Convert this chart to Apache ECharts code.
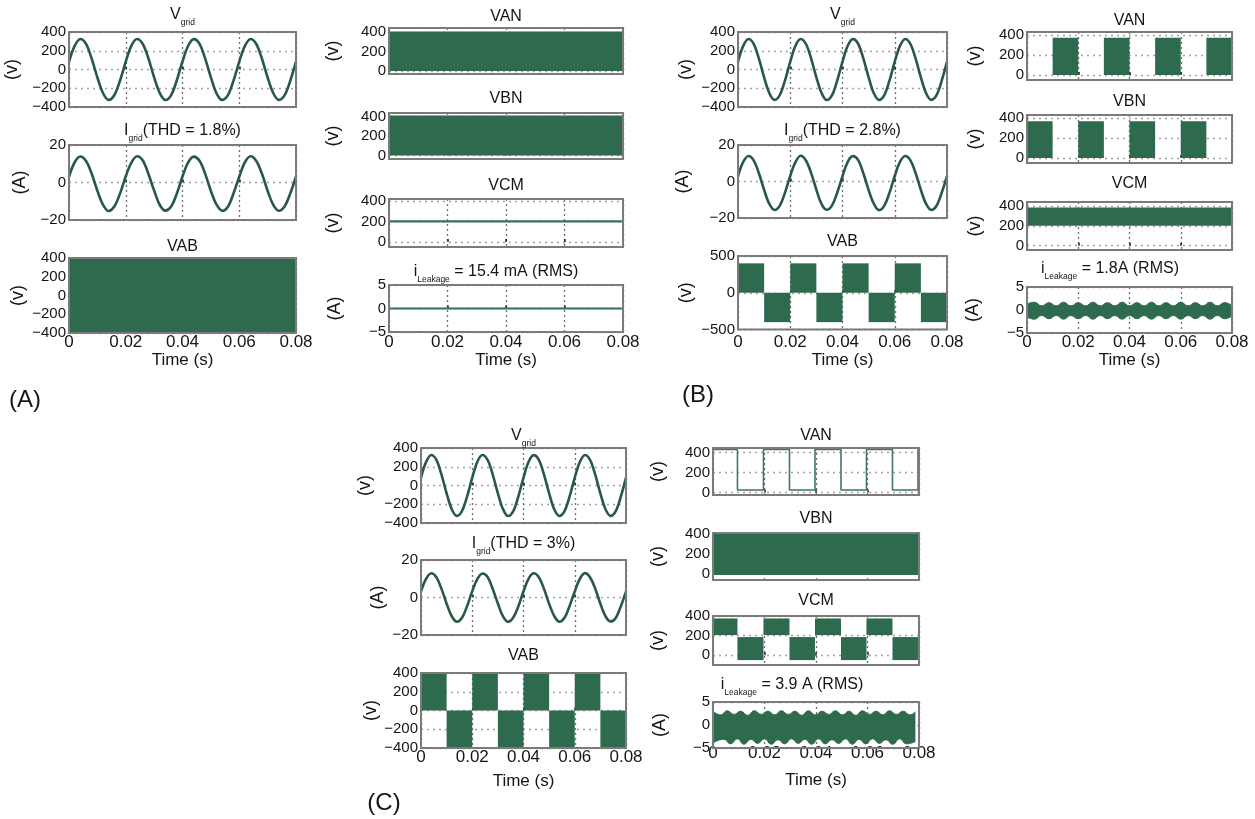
<!DOCTYPE html>
<html>
<head>
<meta charset="utf-8">
<script src="https://cdn.jsdelivr.net/npm/echarts@6/dist/echarts.min.js"></script>
<style>
  html, body { margin: 0; padding: 0; background: #fff; }
  #chart { width: 1255px; height: 819px; }
</style>
</head>
<body>
<div id="chart"></div>
<script>
// ---------- tick labels ----------
const xTicks = [0, 0.02, 0.04, 0.06, 0.08];
const ticksV400 = [-400, -200, 0, 200, 400];
const ticksA20 = [-20, 0, 20];
const ticksV500 = [-500, 0, 500];
const ticksLeg = [0, 200, 400];
const ticksA5 = [-5, 0, 5];

// ---------- grid voltage / current samples (s, V, A) ----------
const tSine = [0, 0.002, 0.004, 0.006, 0.008, 0.010, 0.012, 0.014, 0.016, 0.018,
  0.020, 0.022, 0.024, 0.026, 0.028, 0.030, 0.032, 0.034, 0.036, 0.038,
  0.040, 0.042, 0.044, 0.046, 0.048, 0.050, 0.052, 0.054, 0.056, 0.058,
  0.060, 0.062, 0.064, 0.066, 0.068, 0.070, 0.072, 0.074, 0.076, 0.078, 0.080];

const vGrid = [84, 252, 326, 274, 115, -85, -253, -324, -272, -117,
  83, 254, 325, 272, 117, -84, -252, -326, -273, -115,
  85, 253, 324, 273, 116, -83, -254, -325, -274, -116,
  84, 252, 326, 272, 115, -85, -253, -324, -273, -117, 84];

const iGridA = [3.1, 10.8, 13.9, 11.5, 4.7, -4.4, -11.9, -15.2, -12.7, -5.8,
  3.3, 10.6, 14.0, 11.7, 4.5, -4.3, -12.0, -15.0, -12.8, -5.9,
  3.2, 10.7, 13.8, 11.6, 4.6, -4.5, -11.8, -15.1, -12.9, -5.7,
  3.1, 10.8, 14.0, 11.5, 4.7, -4.4, -11.9, -15.1, -12.7, -5.8, 3.2];

const iGridB = [3.0, 10.7, 14.0, 11.6, 4.5, -4.6, -12.3, -15.6, -13.2, -6.1,
  3.1, 10.6, 14.1, 11.5, 4.6, -4.5, -12.4, -15.5, -13.1, -6.0,
  2.9, 10.8, 13.9, 11.7, 4.4, -4.7, -12.2, -15.7, -13.2, -6.1,
  3.0, 10.7, 14.0, 11.6, 4.5, -4.6, -12.3, -15.6, -13.3, -6.0, 3.0];

const iGridC = [3.3, 10.0, 12.9, 10.8, 4.6, -3.3, -10.0, -12.9, -10.8, -4.6,
  3.4, 9.9, 12.8, 10.9, 4.5, -3.2, -10.1, -13.0, -10.7, -4.7,
  3.3, 10.1, 12.9, 10.8, 4.6, -3.4, -9.9, -12.9, -10.8, -4.5,
  3.2, 10.0, 13.0, 10.7, 4.7, -3.3, -10.0, -12.8, -10.9, -4.6, 3.3];

// ---------- switching waveforms as filled blocks: [tStart, tEnd, low, high] ----------
const vabA = [[0, 0.08, -400, 400]];
const vanA = [[0, 0.08, 0, 410]];
const vbnA = [[0, 0.08, 0, 410]];
const vcmA = [[0, 200], [0.08, 200]];
const iLeakA = [[0, 0], [0.08, 0]];

const vabB = [[0, 0.01, 0, 400], [0.01, 0.02, -400, 0], [0.02, 0.03, 0, 400], [0.03, 0.04, -400, 0],
  [0.04, 0.05, 0, 400], [0.05, 0.06, -400, 0], [0.06, 0.07, 0, 400], [0.07, 0.08, -400, 0]];
const vanB = [[0.01, 0.02, 0, 375], [0.03, 0.04, 0, 375], [0.05, 0.06, 0, 375], [0.07, 0.08, 0, 375]];
const vbnB = [[0, 0.01, 0, 370], [0.02, 0.03, 0, 370], [0.04, 0.05, 0, 370], [0.06, 0.07, 0, 370]];
const vcmB = [[0, 0.08, 200, 385]];
const iLeakBUpper = [[0, 1.3], [0.0029, 1.7], [0.0057, 0.9], [0.0086, 1.6], [0.0114, 0.9], [0.0143, 1.7],
  [0.0171, 0.9], [0.0200, 1.6], [0.0229, 0.9], [0.0257, 1.7], [0.0286, 0.9], [0.0314, 1.6], [0.0343, 0.9],
  [0.0371, 1.7], [0.0400, 0.9], [0.0429, 1.6], [0.0457, 0.9], [0.0486, 1.7], [0.0514, 0.9], [0.0543, 1.6],
  [0.0571, 0.9], [0.0600, 1.7], [0.0629, 0.9], [0.0657, 1.6], [0.0686, 0.9], [0.0714, 1.7], [0.0743, 0.9],
  [0.0771, 1.6], [0.0800, 1.0]];
const iLeakBLower = [[0, -1.5], [0.0029, -2.0], [0.0057, -1.2], [0.0086, -1.9], [0.0114, -1.2], [0.0143, -2.0],
  [0.0171, -1.2], [0.0200, -1.9], [0.0229, -1.2], [0.0257, -2.0], [0.0286, -1.2], [0.0314, -1.9], [0.0343, -1.2],
  [0.0371, -2.0], [0.0400, -1.2], [0.0429, -1.9], [0.0457, -1.2], [0.0486, -2.0], [0.0514, -1.2], [0.0543, -1.9],
  [0.0571, -1.2], [0.0600, -2.0], [0.0629, -1.2], [0.0657, -1.9], [0.0686, -1.2], [0.0714, -2.0], [0.0743, -1.2],
  [0.0771, -1.9], [0.0800, -1.3]];

const vabC = [[0, 0.01, 0, 400], [0.01, 0.02, -400, 0], [0.02, 0.03, 0, 400], [0.03, 0.04, -400, 0],
  [0.04, 0.05, 0, 400], [0.05, 0.06, -400, 0], [0.06, 0.07, 0, 400], [0.07, 0.08, -400, 0]];
const vanC = [[0, 430], [0.0095, 430], [0.0095, 25], [0.0196, 25], [0.0196, 430], [0.0297, 430],
  [0.0297, 25], [0.0396, 25], [0.0396, 430], [0.0497, 430], [0.0497, 25], [0.0596, 25], [0.0596, 430],
  [0.0697, 430], [0.0697, 25], [0.0796, 25], [0.0796, 430], [0.08, 430]];
const vbnC = [[0, 0.08, -15, 400]];
const vcmC = [[0, 0.0095, 205, 375], [0.0095, 0.0196, -50, 185], [0.0196, 0.0297, 205, 375],
  [0.0297, 0.0396, -50, 185], [0.0396, 0.0497, 205, 375], [0.0497, 0.0596, -50, 185],
  [0.0596, 0.0697, 205, 375], [0.0697, 0.0796, -50, 185], [0.0796, 0.08, 205, 375]];
const iLeakCUpper = [[0, 3.0], [0.003, 2.2], [0.0055, 3.1], [0.0082, 2.3], [0.0107, 3.0], [0.0135, 2.1],
  [0.016, 3.1], [0.0188, 2.3], [0.0213, 3.0], [0.024, 2.2], [0.0265, 3.1], [0.0293, 2.3], [0.0318, 3.0],
  [0.0345, 2.1], [0.037, 3.1], [0.0398, 2.2], [0.0423, 3.0], [0.045, 2.3], [0.0475, 3.1], [0.0503, 2.2],
  [0.0528, 3.0], [0.0555, 2.1], [0.058, 3.1], [0.0608, 2.3], [0.0633, 3.0], [0.066, 2.2], [0.0685, 3.1],
  [0.0713, 2.3], [0.0738, 3.0], [0.0765, 2.2], [0.0786, 2.9]];
const iLeakCLower = [[0, -3.9], [0.0042, -3.1], [0.0068, -4.1], [0.0095, -3.0], [0.012, -4.2], [0.0147, -3.1],
  [0.0173, -4.0], [0.02, -3.0], [0.0226, -4.2], [0.0252, -3.2], [0.0278, -4.1], [0.0305, -3.0], [0.0331, -4.0],
  [0.0357, -3.1], [0.0383, -4.2], [0.041, -3.0], [0.0436, -4.1], [0.0462, -3.2], [0.0488, -4.0], [0.0515, -3.0],
  [0.0541, -4.2], [0.0567, -3.1], [0.0593, -4.1], [0.062, -3.0], [0.0646, -4.0], [0.0672, -3.2], [0.0698, -4.2],
  [0.0725, -3.0], [0.0751, -4.1], [0.0786, -3.6]];

// ---------- styling ----------
const FONT = '"Liberation Sans", Arial, Helvetica, sans-serif';
const INK = '#151515';
const GREEN = '#2e6a4e';
const TRACE = '#295a41';

const richTitle = {
  m: { fontSize: 16, fontFamily: FONT, fill: INK, color: INK, verticalAlign: 'top', lineHeight: 18 },
  s: { fontSize: 8.5, fontFamily: FONT, fill: INK, color: INK, verticalAlign: 'top', padding: [12, 0, 0, 0] }
};

// ---------- subplot layout ----------
const plots = [
  // (A)
  { box: [69, 32, 227, 75], y: [-400, 400], ticks: ticksV400, yName: '(v)', gap: 48,
    title: '{m|V}{s|grid}', tPos: [182.5, 17], series: [{ kind: 'sine', values: vGrid }] },
  { box: [69, 145, 227, 75], y: [-20, 20], ticks: ticksA20, yName: '(A)', gap: 40,
    title: '{m|I}{s|grid}{m|(THD = 1.8%)}', tPos: [182.5, 133], series: [{ kind: 'sine', values: iGridA }] },
  { box: [69, 258, 227, 75], y: [-400, 400], ticks: ticksV400, yName: '(v)', gap: 42,
    title: '{m|VAB}', tPos: [182.5, 248], series: [{ kind: 'blocks', data: vabA }],
    xLab: { margin: 1, nameGap: 16.5 } },
  { box: [389, 28, 234, 46], y: [-30, 445], ticks: ticksLeg, yName: '(v)', gap: 47,
    title: '{m|VAN}', tPos: [506, 18], series: [{ kind: 'blocks', data: vanA }] },
  { box: [389, 113, 234, 46], y: [-35, 435], ticks: ticksLeg, yName: '(v)', gap: 47,
    title: '{m|VBN}', tPos: [506, 100], series: [{ kind: 'blocks', data: vbnA }] },
  { box: [389, 199, 234, 48], y: [-50, 420], ticks: ticksLeg, yName: '(v)', gap: 47,
    title: '{m|VCM}', tPos: [506, 187], series: [{ kind: 'trace', data: vcmA }] },
  { box: [389, 285, 234, 47], y: [-5, 5], ticks: ticksA5, yName: '(A)', gap: 45,
    title: '{m|i}{s|Leakage}{m| = 15.4 mA (RMS)}', tPos: [496, 274], series: [{ kind: 'trace', data: iLeakA }],
    xLab: { margin: 2, nameGap: 17.5 } },
  // (B)
  { box: [738, 32, 209, 75], y: [-400, 400], ticks: ticksV400, yName: '(v)', gap: 43,
    title: '{m|V}{s|grid}', tPos: [842.5, 17], series: [{ kind: 'sine', values: vGrid }] },
  { box: [738, 145, 209, 73], y: [-20, 20], ticks: ticksA20, yName: '(A)', gap: 46,
    title: '{m|I}{s|grid}{m|(THD = 2.8%)}', tPos: [842.5, 133], series: [{ kind: 'sine', values: iGridB }] },
  { box: [738, 256, 209, 73.5], y: [-500, 500], ticks: ticksV500, yName: '(v)', gap: 43,
    title: '{m|VAB}', tPos: [842.5, 243], series: [{ kind: 'blocks', data: vabB }],
    xLab: { margin: 4, nameGap: 22 } },
  { box: [1027, 32, 205, 48], y: [-50, 433], ticks: ticksLeg, yName: '(v)', gap: 43,
    title: '{m|VAN}', tPos: [1129.5, 22], series: [{ kind: 'blocks', data: vanB }] },
  { box: [1027, 115, 205, 48], y: [-50, 433], ticks: ticksLeg, yName: '(v)', gap: 43,
    title: '{m|VBN}', tPos: [1129.5, 103], series: [{ kind: 'blocks', data: vbnB }] },
  { box: [1027, 202, 205, 48], y: [-43, 440], ticks: ticksLeg, yName: '(v)', gap: 43,
    title: '{m|VCM}', tPos: [1129.5, 185], series: [{ kind: 'blocks', data: vcmB }] },
  { box: [1027, 287, 205, 46], y: [-5, 5], ticks: ticksA5, yName: '(A)', gap: 45,
    title: '{m|i}{s|Leakage}{m| = 1.8A (RMS)}', tPos: [1110, 271],
    series: [{ kind: 'band', upper: iLeakBUpper, lower: iLeakBLower }],
    xLab: { margin: 1, nameGap: 18.5 } },
  // (C)
  { box: [421, 448, 205, 75], y: [-400, 400], ticks: ticksV400, yName: '(v)', gap: 47,
    title: '{m|V}{s|grid}', tPos: [523.5, 438], series: [{ kind: 'sine', values: vGrid }] },
  { box: [421, 560, 205, 75], y: [-20, 20], ticks: ticksA20, yName: '(A)', gap: 34,
    title: '{m|I}{s|grid}{m|(THD = 3%)}', tPos: [523.5, 546], series: [{ kind: 'sine', values: iGridC }] },
  { box: [421, 673, 205, 75], y: [-400, 400], ticks: ticksV400, yName: '(v)', gap: 37,
    title: '{m|VAB}', tPos: [523.5, 657], series: [{ kind: 'blocks', data: vabC }],
    xLab: { margin: 1, nameGap: 25 } },
  { box: [713, 448, 206, 47], y: [-25, 445], ticks: ticksLeg, yName: '(v)', gap: 46,
    title: '{m|VAN}', tPos: [816, 437], series: [{ kind: 'trace', data: vanC, thin: true }] },
  { box: [713, 533, 206, 47], y: [-65, 405], ticks: ticksLeg, yName: '(v)', gap: 46,
    title: '{m|VBN}', tPos: [816, 520], series: [{ kind: 'blocks', data: vbnC }] },
  { box: [713, 616, 206, 49], y: [-100, 400], ticks: ticksLeg, yName: '(v)', gap: 46,
    title: '{m|VCM}', tPos: [816, 602], series: [{ kind: 'blocks', data: vcmC }] },
  { box: [713, 702, 206, 46], y: [-5, 5], ticks: ticksA5, yName: '(A)', gap: 44,
    title: '{m|i}{s|Leakage}{m| = 3.9 A (RMS)}', tPos: [792, 687],
    series: [{ kind: 'band', upper: iLeakCUpper, lower: iLeakCLower }],
    xLab: { margin: -3, nameGap: 23.5 } }
];

const panelLabels = [['(A)', 25, 400], ['(B)', 698, 395], ['(C)', 384, 803]];

// ---------- chart assembly ----------
const fmtY = v => (v < 0 ? '\u2212' + Math.abs(v) : String(v));
const fmtX = v => String(+v.toFixed(2));

function renderBlock(params, api) {
  const a = api.coord([api.value(0), api.value(3)]);
  const b = api.coord([api.value(1), api.value(2)]);
  const cs = params.coordSys;
  const shape = echarts.graphic.clipRectByRect(
    { x: a[0], y: a[1], width: b[0] - a[0], height: b[1] - a[1] },
    { x: cs.x, y: cs.y, width: cs.width, height: cs.height });
  return shape && { type: 'rect', shape: shape, style: { fill: GREEN } };
}

const option = {
  animation: false,
  backgroundColor: '#fff',
  grid: [], xAxis: [], yAxis: [], series: [], graphic: []
};

plots.forEach((p, k) => {
  option.grid.push({
    left: p.box[0], top: p.box[1], width: p.box[2], height: p.box[3],
    show: true, z: 5, backgroundColor: 'transparent', borderColor: '#7b7b7b', borderWidth: 2
  });
  const hasX = !!p.xLab;
  option.xAxis.push({
    type: 'value', gridIndex: k, min: 0, max: 0.08,
    axisLine: { show: false },
    axisTick: { show: true, inside: true, length: 3, customValues: xTicks, lineStyle: { color: '#222', width: 1.5 } },
    splitLine: { show: true, lineStyle: { color: '#6f6f6f', type: [2, 3], width: 1.3 } },
    axisLabel: {
      show: hasX, customValues: xTicks, margin: hasX ? p.xLab.margin : 0, formatter: fmtX,
      fontSize: 17, fontFamily: FONT, color: INK, showMinLabel: true, showMaxLabel: true
    },
    name: hasX ? 'Time (s)' : '', nameLocation: 'middle', nameGap: hasX ? p.xLab.nameGap : 0,
    nameTextStyle: { fontSize: 17, fontFamily: FONT, color: INK }
  });
  option.yAxis.push({
    type: 'value', gridIndex: k, min: p.y[0], max: p.y[1],
    axisLine: { show: false },
    axisTick: { show: false, customValues: p.ticks },
    splitLine: { show: true, lineStyle: { color: '#ab9f9f', type: [2, 4], width: 1.3 } },
    axisLabel: { customValues: p.ticks, formatter: fmtY, margin: 3, fontSize: 15, fontFamily: FONT, color: INK },
    name: p.yName, nameLocation: 'middle', nameRotate: 90, nameGap: p.gap,
    nameTextStyle: { fontSize: 18, fontFamily: FONT, color: INK }
  });

  p.series.forEach(s => {
    const base = { xAxisIndex: k, yAxisIndex: k, silent: true };
    if (s.kind === 'sine') {
      option.series.push(Object.assign({}, base, {
        type: 'line', data: tSine.map((t, i) => [t, s.values[i]]), smooth: 0.35, showSymbol: false,
        lineStyle: { color: TRACE, width: 2.6 }
      }));
    } else if (s.kind === 'trace') {
      option.series.push(Object.assign({}, base, {
        type: 'line', data: s.data, showSymbol: false,
        lineStyle: { color: s.thin ? '#3f7a5d' : '#357256', width: s.thin ? 1.6 : 2.2 }
      }));
    } else if (s.kind === 'blocks') {
      option.series.push(Object.assign({}, base, {
        type: 'custom', renderItem: renderBlock, data: s.data, encode: { x: [0, 1], y: [2, 3] }
      }));
    } else if (s.kind === 'band') {
      [s.upper, s.lower].forEach(edge => {
        option.series.push(Object.assign({}, base, {
          type: 'line', data: edge, smooth: 0.5, showSymbol: false,
          lineStyle: { color: GREEN, width: 1 },
          areaStyle: { color: GREEN, opacity: 1 }
        }));
      });
    }
  });

  option.graphic.push({
    type: 'text', x: p.tPos[0], y: p.tPos[1], z: 10,
    style: { text: p.title, rich: richTitle, align: 'center', verticalAlign: 'middle',
      fontSize: 16, fontFamily: FONT, fill: INK }
  });
});

panelLabels.forEach(([txt, x, y]) => {
  option.graphic.push({
    type: 'text', x: x, y: y, z: 10,
    style: { text: txt, align: 'center', verticalAlign: 'middle', fontSize: 24, fontFamily: FONT, fill: INK }
  });
});

const chart = echarts.init(document.getElementById('chart'), null, { renderer: 'canvas' });
chart.setOption(option);
</script>
</body>
</html>
